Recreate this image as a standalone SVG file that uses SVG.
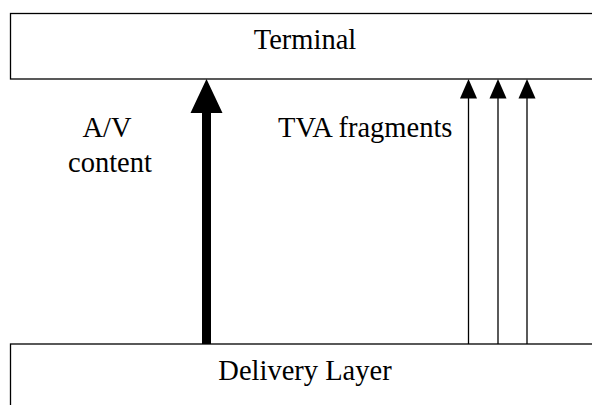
<svg xmlns="http://www.w3.org/2000/svg" width="592" height="405" viewBox="0 0 592 405">
<style>
.box{fill:#fff;stroke:#000;stroke-width:1.3}
.lbl{font-family:"Liberation Serif","Times New Roman",serif;font-size:28.5px;fill:#000}
.thin{stroke:#000;stroke-width:1.3;fill:none}
.thick{stroke:#000;stroke-width:9;fill:none}
.head{fill:#000}
</style>
<rect width="592" height="405" fill="#fff"/>
<g id="terminal">
<rect class="box" x="10.5" y="13.5" width="600" height="65.5"/>
<text class="lbl" x="305" y="49" text-anchor="middle">Terminal</text>
</g>
<g id="delivery">
<rect class="box" x="10.5" y="344" width="600" height="80"/>
<text class="lbl" x="305" y="380" text-anchor="middle">Delivery Layer</text>
</g>
<g id="connectors">
<line class="thick" x1="206.5" y1="344" x2="206.5" y2="110"/>
<polygon class="head" points="206.5,79 190.5,113 222.5,113"/>
<line class="thin" x1="468.5" y1="344" x2="468.5" y2="97"/>
<polygon class="head" points="468.5,79 460,98.5 477,98.5"/>
<line class="thin" x1="498" y1="344" x2="498" y2="97"/>
<polygon class="head" points="498,79 489.5,98.5 506.5,98.5"/>
<line class="thin" x1="527" y1="344" x2="527" y2="97"/>
<polygon class="head" points="527,79 518.5,98.5 535.5,98.5"/>
</g>
<g id="labels">
<text class="lbl" x="107" y="137" text-anchor="middle">A/V</text>
<text class="lbl" x="110" y="172" text-anchor="middle">content</text>
<text class="lbl" x="278" y="137">TVA fragments</text>
</g>
</svg>
